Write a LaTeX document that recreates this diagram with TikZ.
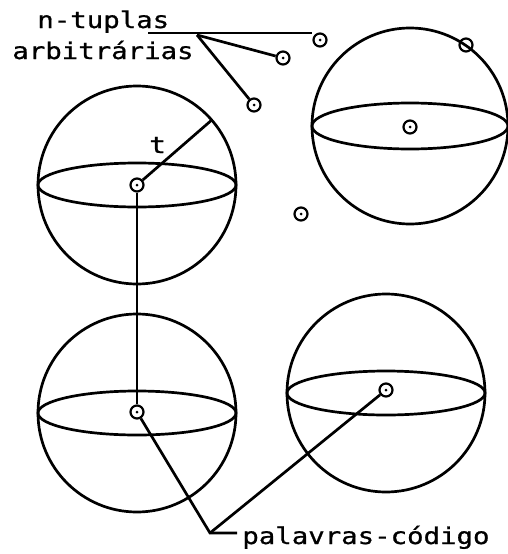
\documentclass[tikz,border=0pt]{standalone}
\usepackage{fontspec}
\setmainfont{DejaVu Sans Mono}[FakeBold=0.8]
\usetikzlibrary{calc}
\newcommand{\wide}[1]{\scalebox{1.19}[1]{#1}}
\begin{document}
\begin{tikzpicture}[x=1pt,y=-1pt,line width=2.7pt,
  pt/.style={circle,draw,line width=2.2pt,inner sep=0pt,minimum size=13pt,
    path picture={\fill (path picture bounding box.center) circle (1.5pt);}},
  ring/.style={circle,draw,line width=2.2pt,inner sep=0pt,minimum size=13pt},
  lbl/.style={font=\fontsize{23}{23}\selectfont,inner sep=0pt,anchor=base west}]
\useasboundingbox (0,0) rectangle (507,554);
% spheres
\draw (137,185) circle (99);
\draw (137,185) ellipse (99 and 22);
\draw (410,126) circle (98);
\draw (410,126) ellipse (98 and 23);
\draw (137,413) circle (99);
\draw (137,413) ellipse (99 and 22);
\draw (386,393) circle (99);
\draw (386,393) ellipse (99 and 22);
% points
\node[pt] (c1) at (137,185) {};
\node[pt] (c2) at (410,127) {};
\node[pt] (c3) at (137,412) {};
\node[pt] (c4) at (386,390) {};
\node[pt] (d1) at (320,40) {};
\node[pt] (d2) at (283,58) {};
\node[pt] (d3) at (254,105) {};
\node[pt] (d4) at (301,214) {};
\node[ring] (e1) at (466,45) {};
% radius
\coordinate (rend) at ($(137,185)+(-41:99)$);
\draw (c1) -- (rend);
\node[lbl] (tl) at (148,153) {\wide{t}};
% labels
\node[lbl] (nt) at (36,28) {\wide{n-tuplas}};
\node[lbl] (ar) at (11,59) {\wide{arbitrárias}};
\node[lbl] (pc) at (241,544) {\wide{palavras-código}};
\coordinate (ls) at (148,33);
\coordinate (br) at (197,35);
\draw (ls) -- (ls -| d1.west);
\draw (br) -- (d2);
\draw (br) -- (d3);
\draw (c1) -- (c3);
\coordinate (pk) at (210,533);
\coordinate (pt2) at (237,533);
\draw (c3) -- (pk) -- (pt2);
\draw (pk) -- (c4);
\end{tikzpicture}
\end{document}
